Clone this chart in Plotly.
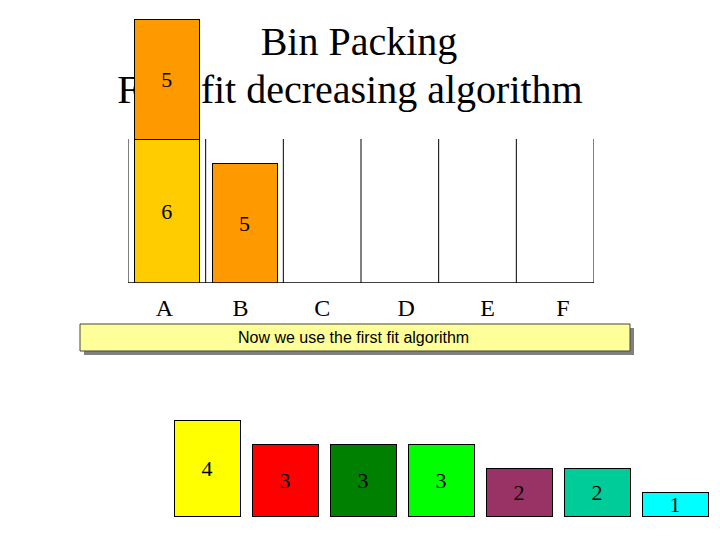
import plotly.graph_objects as go

bins = ["A", "B", "C", "D", "E", "F"]
bin_capacity = [6, 6, 6, 6, 6, 6]
first_item = [6, 5, 0, 0, 0, 0]
first_colors = ["#FFCC00", "#FF9900", "#FF9900", "#FF9900", "#FF9900", "#FF9900"]
second_item = [5, 0, 0, 0, 0, 0]
second_colors = ["#FF9900"] * 6

items = [4, 3, 3, 3, 2, 2, 1]
item_colors = ["#FFFF00", "#FF0000", "#008000", "#00FF00", "#993366", "#00CC99", "#00FFFF"]

title_lines = ["Bin Packing", "First fit decreasing algorithm"]
note = "Now we use the first fit algorithm"

OFF = 8  # page body margin
W, H = 720 - OFF, 540 - OFF
def px(x): return (x - OFF) / W
def py(y): return 1 - (y - OFF) / H

unit = 24.0
fig = go.Figure()

# --- subplot 1 (drawn first): title text + remaining items ---
item_x0, step = 207.0 - OFF, 78.0
ybase = 516 - OFF
fig.add_trace(go.Scatter(
    x=[(359 - OFF - item_x0) / step, (350 - OFF - item_x0) / step],
    y=[(ybase - (45 - OFF)) / unit, (ybase - (93 - OFF)) / unit],
    mode="text", text=title_lines,
    textfont=dict(family="Liberation Serif", size=40, color="black"),
    hoverinfo="skip", showlegend=False, xaxis="x", yaxis="y"))
fig.add_trace(go.Bar(
    x=list(range(len(items))), y=items, width=66 / step,
    marker=dict(color=item_colors, line=dict(color="black", width=1)),
    text=[str(v) for v in items], textposition="inside", insidetextanchor="middle",
    textangle=0, constraintext="none",
    textfont=dict(family="Liberation Serif", size=22, color="black"),
    showlegend=False, xaxis="x", yaxis="y"))

# --- subplot 2: bins ---
bx0, bx1 = 128.0, 594.0
for i in range(len(bins) + 1):
    fig.add_trace(go.Scatter(x=[i, i], y=[0, bin_capacity[min(i, 5)]], mode="lines",
                             line=dict(color="black", width=1), hoverinfo="skip",
                             showlegend=False, xaxis="x2", yaxis="y2"))
fig.add_trace(go.Scatter(x=[0, len(bins)], y=[0, 0], mode="lines",
                         line=dict(color="black", width=1.5), hoverinfo="skip",
                         showlegend=False, xaxis="x2", yaxis="y2"))
bw = 65 / ((bx1 - bx0) / 6)
centers = [i + 0.5 for i in range(len(bins))]
for vals, cols in [(first_item, first_colors), (second_item, second_colors)]:
    fig.add_trace(go.Bar(
        x=centers, y=vals, width=bw,
        marker=dict(color=cols, line=dict(color="black", width=1)),
        text=[str(v) if v else "" for v in vals], textposition="inside",
        insidetextanchor="middle", textangle=0,
        textfont=dict(family="Liberation Serif", size=22, color="black"),
        showlegend=False, xaxis="x2", yaxis="y2"))

fig.update_layout(
    width=W, height=H, margin=dict(l=0, r=0, t=0, b=0),
    paper_bgcolor="white", plot_bgcolor="rgba(0,0,0,0)", barmode="stack",
    xaxis=dict(domain=[0, 1], range=[-item_x0 / step, (W - item_x0) / step], visible=False),
    yaxis=dict(domain=[0, 1], range=[-(H - ybase) / unit, ybase / unit], visible=False),
    xaxis2=dict(domain=[px(bx0), px(bx1)], range=[0, 6], anchor="y2",
                tickvals=[0.47, 1.45, 2.5, 3.58, 4.63, 5.6], ticktext=bins,
                tickfont=dict(family="Liberation Serif", size=24, color="black"),
                showgrid=False, zeroline=False, showline=False, ticks="", ticklabelstandoff=8),
    yaxis2=dict(domain=[py(283), py(7 + OFF)], range=[0, (276 - OFF) / unit], anchor="x2",
                visible=False),
    shapes=[
        dict(type="rect", xref="paper", yref="paper", x0=px(84), x1=px(634),
             y0=py(355), y1=py(328), fillcolor="#808080", line=dict(width=0)),
        dict(type="rect", xref="paper", yref="paper", x0=px(80), x1=px(630),
             y0=py(351), y1=py(324), fillcolor="#FFFF99",
             line=dict(color="#444444", width=1)),
    ],
    annotations=[dict(text=note, xref="paper", yref="paper", x=px(353), y=py(337),
                      showarrow=False, font=dict(family="Liberation Sans", size=16, color="black"))],
)
fig.write_html("out.html")
